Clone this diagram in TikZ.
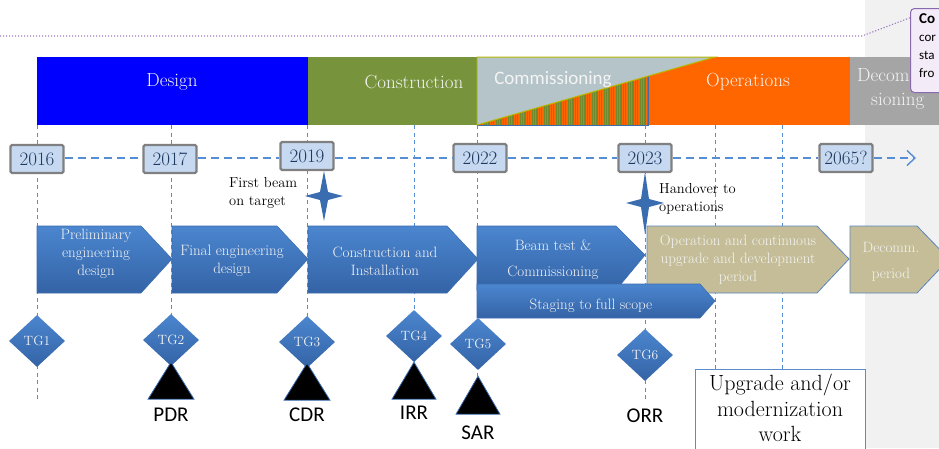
\documentclass[tikz,border=0pt]{standalone}
\usepackage{fontspec}
\newfontfamily\carlito{Carlito}
\usetikzlibrary{arrows.meta,shapes.geometric}
\definecolor{designblue}{HTML}{0000FF}
\definecolor{constrgreen}{HTML}{77933C}
\definecolor{commgray}{HTML}{B4C4C8}
\definecolor{commline}{HTML}{B8B800}
\definecolor{opsorange}{HTML}{FF6600}
\definecolor{hatchgreen}{HTML}{6F8A2E}
\definecolor{decomgray}{HTML}{A5A5A5}
\definecolor{panelgray}{HTML}{F1F1F1}
\definecolor{dashblue}{HTML}{558ED5}
\definecolor{yearfill}{HTML}{C6D9F1}
\definecolor{yearline}{HTML}{808080}
\definecolor{yeartext}{HTML}{1F3A60}
\definecolor{chevtop}{HTML}{4B86CF}
\definecolor{chevbot}{HTML}{3463A6}
\definecolor{chevline}{HTML}{3A6DB0}
\definecolor{tanfill}{HTML}{C4BD97}
\definecolor{tanline}{HTML}{5B86C0}
\definecolor{boxline}{HTML}{5A8BCB}
\definecolor{notefill}{HTML}{F3ECF8}
\definecolor{noteline}{HTML}{8A6AAE}
\definecolor{dotpurple}{HTML}{9A7CC0}
\definecolor{softwhite}{HTML}{F4F4F4}
\begin{document}
\begin{tikzpicture}[x=1pt,y=-1pt,
  phase/.style={text=softwhite,font=\fontsize{19}{20}\selectfont,inner sep=0},
  yearbox/.style={draw=yearline,line width=2.4pt,fill=yearfill,rounded corners=1.5pt,
     minimum width=53pt,minimum height=28pt,inner sep=0,text=yeartext,
     font=\fontsize{19}{20}\selectfont},
  timeline/.style={dashblue,line width=1.4pt,dash pattern=on 8pt off 5pt},
  vdash/.style={dashblue,line width=0.9pt,dash pattern=on 4pt off 3.5pt},
  chev/.style={top color=chevtop,bottom color=chevbot,draw=chevline,line width=0.6pt},
  tanchev/.style={fill=tanfill,draw=tanline,line width=0.8pt},
  chevtext/.style={text=softwhite,align=center,inner sep=0,font=\fontsize{15}{18}\selectfont},
  tg/.style={diamond,aspect=1.08,minimum width=56pt,minimum height=52pt,inner sep=0,
     top color=chevtop,bottom color=chevbot,draw=none,text=softwhite,
     font=\fontsize{13.5}{14}\selectfont},
  review/.style={fill=black,draw=chevline,line width=0.8pt},
  reviewtext/.style={font=\carlito\fontsize{21}{22}\selectfont,inner sep=0},
  startext/.style={align=left,inner sep=0,font=\fontsize{14.5}{18}\selectfont},
  starshape/.style={fill=chevline,draw=none},
]
\useasboundingbox (0,0) rectangle (939,448);
\clip (0,0) rectangle (939,448);
\fill[white] (0,0) rectangle (939,448);
\fill[panelgray] (865,0) rectangle (939,448);

% dotted comment line
\coordinate (d0) at (0,36);
\coordinate (d1) at (862,36);
\coordinate (d2) at (912,17);
\draw[dotpurple,line width=1.1pt,dash pattern=on 1.2pt off 1.8pt] (d0) -- (d1) -- (d2);

% ---------- phase bar ----------
\fill[designblue] (37,57) rectangle (308,125);
\fill[constrgreen] (308,57) rectangle (477,125);
\fill[opsorange] (648,57) rectangle (850,125);
\fill[decomgray] (850,57) rectangle (945,125);
\begin{scope}
  \clip (477,125) -- (648,125) -- (648,76.1) -- cycle;
  \fill[opsorange] (477,57) rectangle (648,125);
  \foreach \x in {477,479.4,...,648} \draw[hatchgreen,line width=1.1pt] (\x,57) -- (\x,125);
\end{scope}
\draw[chevline,line width=0.8pt] (477,125) -- (648,125) -- (648,76.1);
\filldraw[fill=commgray,draw=commline,line width=1pt] (477,57) -- (715,57) -- (477,125) -- cycle;

\node[phase] (design) at (172,82) {Design};
\node[phase] (construction) at (414,82) {Construction};
\node[phase,font=\carlito\fontsize{19}{20}\selectfont] (commissioning) at (553,80) {Commissioning};
\node[phase] (operations) at (748,82) {Operations};
\node[phase,anchor=west] (decom1) at (857,75) {Decom};
\node[phase,anchor=west] (decom2) at (871,101) {sioning};

% comment box
\node[draw=noteline,fill=notefill,line width=1pt,rounded corners=4pt,
      minimum width=70pt,minimum height=84pt,anchor=north west,inner sep=0] (note) at (910,8) {};
\node[anchor=north west,inner sep=0,align=left,font=\carlito\fontsize{13}{18}\selectfont]
  (notetext) at (919,13) {\textbf{\fontsize{15}{18}\selectfont Co}\\cor\\sta\\fro};

% ---------- vertical guide lines ----------
\foreach \n/\x/\yb in {a/37/400,b/171/363,c/307/363,d/414/362,e/477/376,f/645/400,g/715/369,h/782/369}{
  \coordinate (\n top) at (\x,125);
  \coordinate (\n bot) at (\x,\yb);
  \draw[vdash] (\n top) -- (\n bot);
}

% ---------- timeline ----------
\node[yearbox] (y2016) at (37,159) {2016};
\node[yearbox] (y2017) at (170,159) {2017};
\node[yearbox] (y2019) at (307,156) {2019};
\node[yearbox] (y2022) at (480,158) {2022};
\node[yearbox] (y2023) at (645,158) {2023};
\node[yearbox] (y2065) at (846,158) {2065?};
\coordinate (tend) at (916,158);
\draw[timeline] (y2016.east |- 0,158) -- (y2017.west |- 0,158);
\draw[timeline] (y2017.east |- 0,158) -- (y2019.west |- 0,158);
\draw[timeline] (y2019.east |- 0,158) -- (y2022.west |- 0,158);
\draw[timeline] (y2022.east |- 0,158) -- (y2023.west |- 0,158);
\draw[timeline] (y2023.east |- 0,158) -- (y2065.west |- 0,158);
\draw[timeline,-{Straight Barb[length=8pt,width=15pt,line width=1.4pt]}] (y2065.east |- 0,158) -- (tend);

% ---------- stars ----------
\coordinate (star1) at (324,196);
\coordinate (star2) at (645,203);
\fill[starshape] (star1) ++(0,-25) -- ++(4,21) -- ++(15,4) -- ++(-15,4) -- ++(-4,21) -- ++(-4,-21) -- ++(-15,-4) -- ++(15,-4) -- cycle;
\fill[starshape] (star2) ++(0,-31) -- ++(4,27) -- ++(15,4) -- ++(-15,4) -- ++(-4,27) -- ++(-4,-27) -- ++(-15,-4) -- ++(15,-4) -- cycle;
\node[startext,anchor=west] (firstbeam) at (229,193) {First beam\\on target};
\node[startext,anchor=west] (handover) at (659,199) {Handover to\\operations};

% ---------- chevrons ----------
\shade[chev] (37,226) -- (141,226) -- (172,259) -- (141,293) -- (37,293) -- cycle;
\shade[chev] (172,226) -- (277,226) -- (308,259) -- (277,293) -- (172,293) -- cycle;
\shade[chev] (308,226) -- (447,226) -- (478,259) -- (447,293) -- (308,293) -- cycle;
\shade[chev] (477,226) -- (616,226) -- (645,255) -- (616,290) -- (477,290) -- cycle;
\filldraw[tanchev] (647,226) -- (817,226) -- (849,259) -- (817,293) -- (647,293) -- cycle;
\filldraw[tanchev] (850,226) -- (917,226) -- (949,259) -- (917,293) -- (850,293) -- cycle;
\shade[chev] (477,284) -- (700,284) -- (715,301) -- (700,318) -- (477,318) -- cycle;

\node[chevtext] (prelim) at (96,254) {Preliminary\\engineering\\design};
\node[chevtext] (final) at (232,261) {Final engineering\\design};
\node[chevtext] (install) at (385,261) {Construction and\\Installation};
\node[chevtext,font=\fontsize{15}{26}\selectfont] (beamtest) at (553,260) {Beam test \&\\Commissioning};
\node[chevtext] (staging) at (591,306) {Staging to full scope};
\node[chevtext] (opsperiod) at (738,260) {Operation and continuous\\upgrade and development\\period};
\node[chevtext,font=\fontsize{15}{26}\selectfont] (decperiod) at (891,262) {Decomm.\\period};

% ---------- gates ----------
\node[tg] (tg1) at (37,341) {TG1};
\node[tg] (tg2) at (171,340) {TG2};
\node[tg] (tg3) at (307,342) {TG3};
\node[tg] (tg4) at (414,336) {TG4};
\node[tg] (tg5) at (478,344) {TG5};
\node[tg] (tg6) at (645,355) {TG6};

% ---------- reviews ----------
\filldraw[review] (tg2.south) ++(0,-4) -- ++(23,37) -- ++(-46,0) -- cycle;
\filldraw[review] (tg3.south) ++(0,-5) -- ++(23,37) -- ++(-46,0) -- cycle;
\filldraw[review] (tg4.south) ++(0,0) -- ++(22,37) -- ++(-44,0) -- cycle;
\filldraw[review] (tg5.south) ++(0,6) -- ++(22,38) -- ++(-44,0) -- cycle;
\node[reviewtext] (pdr) at (171,415) {PDR};
\node[reviewtext] (cdr) at (307,415) {CDR};
\node[reviewtext] (irr) at (414,413) {IRR};
\node[reviewtext] (sar) at (478,433) {SAR};
\node[reviewtext] (orr) at (645,416) {ORR};

% ---------- upgrade box ----------
\node[draw=boxline,fill=white,line width=1.2pt,minimum width=170pt,minimum height=92pt,
      anchor=north west,inner sep=0] (upbox) at (695,369) {};
\node[align=center,inner sep=0,font=\fontsize{22}{25.5}\selectfont] (uptext) at (780,408)
  {Upgrade and/or\\modernization\\work};
\end{tikzpicture}
\end{document}
